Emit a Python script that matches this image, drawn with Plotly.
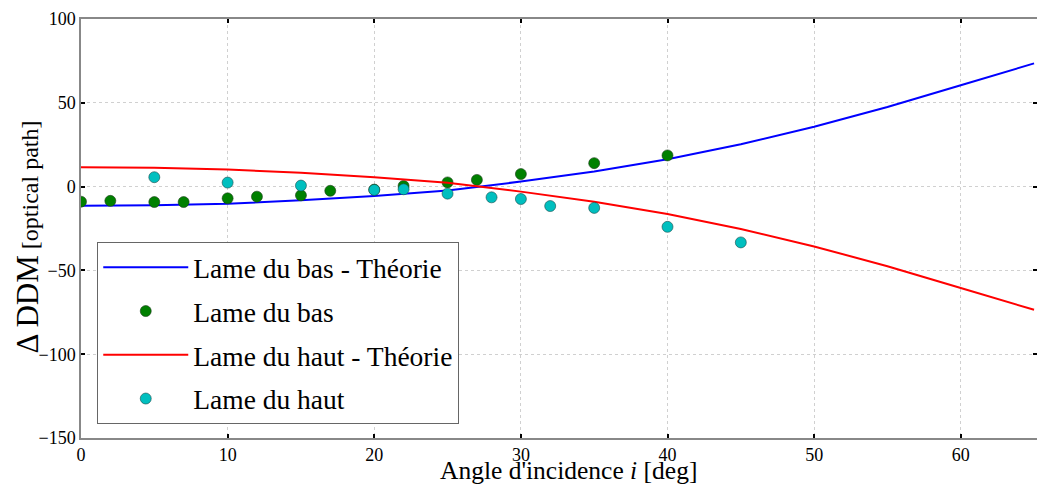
import plotly.graph_objects as go

# Theory curves (sampled every 5 deg)
theo_x = [0, 5, 10, 15, 20, 25, 30, 35, 40, 45, 50, 55, 60, 65]
theo_bas = [-11.5, -11.2, -10.2, -8.2, -5.6, -2.3, 3.0, 9.0, 16.3, 25.3, 35.7, 47.5, 60.5, 73.5]
theo_haut = [-v for v in theo_bas]

# Measurements
bas_x = [0, 2, 5, 7, 10, 12, 15, 17, 20, 22, 25, 27, 30, 35, 40]
bas_y = [-9, -8.5, -9.2, -9.2, -7, -6, -5.2, -2.5, -1.8, 0.4, 2.5, 4, 7.5, 14, 18.6]

haut_x = [5, 10, 15, 20, 22, 25, 28, 30, 32, 35, 40, 45]
haut_y = [5.6, 2.4, 0.6, -2, -1.6, -4.2, -6.4, -7.4, -11.6, -12.7, -24, -33.3]

x_ticks = [0, 10, 20, 30, 40, 50, 60]
y_ticks = [-150, -100, -50, 0, 50, 100]

FONT = "Liberation Serif"

fig = go.Figure()
fig.add_trace(go.Scatter(x=theo_x, y=theo_bas, mode="lines", name="Lame du bas - Théorie",
                         line=dict(color="#0000FF", width=2), legendgroup="a"))
fig.add_trace(go.Scatter(x=bas_x, y=bas_y, mode="markers", name="Lame du bas",
                         marker=dict(color="#008000", size=11, line=dict(color="#1a3a1a", width=0.6)),
                         legendgroup="b"))
fig.add_trace(go.Scatter(x=theo_x, y=theo_haut, mode="lines", name="Lame du haut - Théorie",
                         line=dict(color="#FF0000", width=2), legendgroup="c"))
fig.add_trace(go.Scatter(x=haut_x, y=haut_y, mode="markers", name="Lame du haut",
                         marker=dict(color="#00BFBF", size=11, line=dict(color="#1a4a4a", width=0.6)),
                         legendgroup="d"))

axis_common = dict(
    showgrid=True, gridcolor="#d0d0d0", griddash="dot", gridwidth=1,
    showline=True, linecolor="#888888", linewidth=1.5, mirror="ticks",
    ticks="inside", ticklen=4, tickcolor="black", tickwidth=1.5,
    zeroline=False, automargin=False,
    tickfont=dict(family=FONT, size=18, color="black"),
)

fig.update_layout(
    width=1037, height=485,
    margin=dict(l=81, r=0, t=19, b=47),
    paper_bgcolor="white", plot_bgcolor="white",
    font=dict(family=FONT, color="black"),
    xaxis=dict(range=[0, 65.2], tickvals=x_ticks, **axis_common),
    yaxis=dict(range=[-150, 100], tickvals=y_ticks, **axis_common),
    legend=dict(x=0.017, y=0.468, xanchor="left", yanchor="top",
                bgcolor="white", bordercolor="#666666", borderwidth=1,
                font=dict(family=FONT, size=27.5, color="black"),
                itemwidth=85, tracegroupgap=5, traceorder="grouped"),
    showlegend=True,
    annotations=[
        dict(text="Angle d'incidence <i>i</i> [deg]", xref="paper", yref="paper",
             x=0.5, y=0, xanchor="center", yanchor="bottom", yshift=-49, xshift=9,
             showarrow=False, font=dict(family=FONT, size=25.5, color="black")),
        dict(text="<span style='font-size:31px'>Δ DDM</span> [optical path]",
             xref="paper", yref="paper", x=0, y=0.5, xanchor="center", yanchor="middle",
             xshift=-54, yshift=-9, textangle=-90, showarrow=False,
             font=dict(family=FONT, size=24, color="black")),
    ],
)

fig.write_html(
    "out.html",
    config={"displayModeBar": False},
    post_script="document.body.style.margin='0';document.body.style.overflow='hidden';",
)
